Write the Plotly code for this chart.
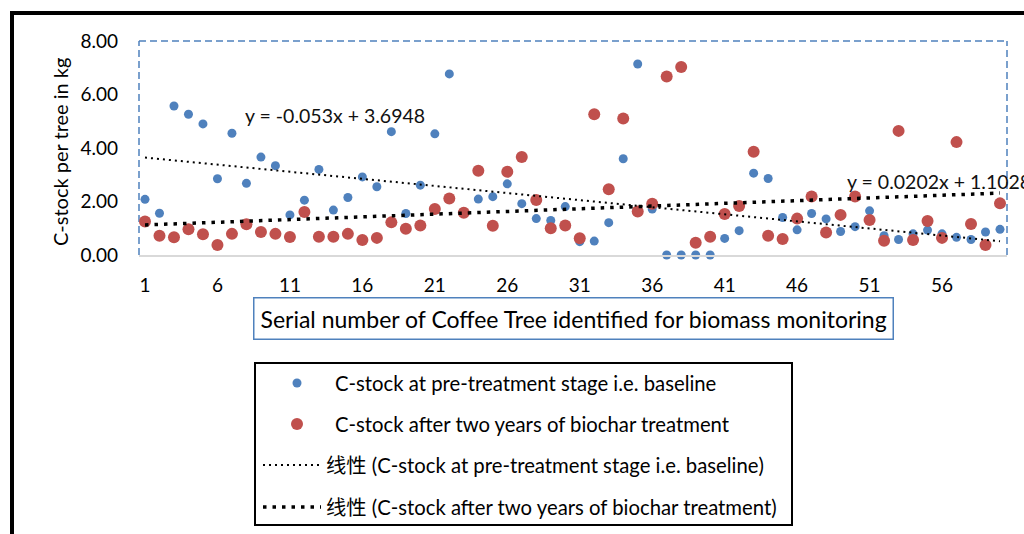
import plotly.graph_objects as go

# ---------------- data ----------------
tree_no = list(range(1, 61))
baseline = [2.08, 1.56, 5.57, 5.26, 4.90, 2.85, 4.55, 2.68, 3.66, 3.34,
            1.50, 2.05, 3.20, 1.68, 2.15, 2.92, 2.55, 4.61, 1.55, 2.61,
            4.53, 6.77, 1.61, 2.09, 2.18, 2.66, 1.92, 1.36, 1.29, 1.81,
            0.50, 0.52, 1.21, 3.60, 7.14, 1.72, 0.00, 0.00, 0.00, 0.00,
            0.62, 0.91, 3.06, 2.86, 1.40, 0.94, 1.55, 1.35, 0.88, 1.06,
            1.65, 0.72, 0.58, 0.79, 0.93, 0.79, 0.66, 0.58, 0.86, 0.96]
after = [1.25, 0.72, 0.66, 0.96, 0.78, 0.37, 0.79, 1.15, 0.86, 0.79,
         0.67, 1.61, 0.68, 0.68, 0.79, 0.56, 0.64, 1.22, 0.98, 1.10,
         1.72, 2.11, 1.58, 3.15, 1.09, 3.11, 3.66, 2.06, 1.00, 1.10,
         0.63, 5.26, 2.46, 5.10, 1.63, 1.92, 6.67, 7.03, 0.46, 0.68,
         1.53, 1.83, 3.86, 0.72, 0.60, 1.36, 2.19, 0.84, 1.50, 2.19,
         1.31, 0.53, 4.64, 0.56, 1.27, 0.64, 4.22, 1.16, 0.37, 1.93]

base_slope, base_intercept = -0.053, 3.6948
after_slope, after_intercept = 0.0202, 1.1028

name_base = "C-stock at pre-treatment stage i.e. baseline"
name_after = "C-stock after two years of biochar treatment"
name_base_tr = "线性 (C-stock at pre-treatment stage i.e. baseline)"
name_after_tr = "线性 (C-stock after two years of biochar treatment)"

y_ticks = [0, 2, 4, 6, 8]
y_tick_text = ["0.00", "2.00", "4.00", "6.00", "8.00"]
x_ticks = list(range(1, 61, 5))

x_title = "Serial number of Coffee Tree identified for biomass monitoring"
y_title = "C-stock per tree in kg"
eq_base = "y = -0.053x + 3.6948"
eq_after = "y = 0.0202x + 1.1028"

BLUE = "#4F81BD"
RED = "#C0504D"
FONT = "Lato, 'Noto Sans CJK SC', sans-serif"

BASE_MARK, AFTER_MARK = 9, 12
BASE_LINE = dict(color="black", width=2, dash="2px,4px")
AFTER_LINE = dict(color="black", width=3.5, dash="3.5px,6px")

# ---------------- figure ----------------
W, H = 1024, 534
L, R, T, B = 139, 17, 41, 279   # plot area 139..1007 x 41..255


def px_x(px):
    return (px - L) / (W - L - R)


def px_y(py):
    return (H - B - py) / (H - T - B)


trend_x = [tree_no[0], tree_no[-1]]

fig = go.Figure()
fig.add_trace(go.Scatter(
    x=tree_no, y=baseline, mode="markers", name=name_base,
    marker=dict(color=BLUE, size=BASE_MARK), cliponaxis=False))
fig.add_trace(go.Scatter(
    x=tree_no, y=after, mode="markers", name=name_after,
    marker=dict(color=RED, size=AFTER_MARK), cliponaxis=False))
fig.add_trace(go.Scatter(
    x=trend_x, y=[base_slope * v + base_intercept for v in trend_x],
    mode="lines", name=name_base_tr, line=BASE_LINE))
fig.add_trace(go.Scatter(
    x=trend_x, y=[after_slope * v + after_intercept for v in trend_x],
    mode="lines", name=name_after_tr, line=AFTER_LINE))

dash_frame = dict(color=BLUE, width=1.5, dash="7px,4px")
shapes = [
    dict(type="line", xref="paper", yref="paper", x0=0, x1=1, y0=1, y1=1,
         line=dash_frame, layer="below"),
    dict(type="line", xref="paper", yref="paper", x0=0, x1=0, y0=0, y1=1,
         line=dash_frame, layer="below"),
    dict(type="line", xref="paper", yref="paper", x0=1, x1=1, y0=0, y1=1,
         line=dash_frame, layer="below"),
    # outer black border (top, left)
    dict(type="line", xref="paper", yref="paper", x0=px_x(10), x1=px_x(1030),
         y0=px_y(13), y1=px_y(13), line=dict(color="black", width=4)),
    dict(type="line", xref="paper", yref="paper", x0=px_x(12), x1=px_x(12),
         y0=px_y(11), y1=px_y(700), line=dict(color="black", width=4)),
]

annotations = [
    dict(text=eq_base, xref="paper", yref="paper", x=px_x(243), y=px_y(115),
         xanchor="left", yanchor="middle", showarrow=False,
         font=dict(family=FONT, size=19.5, color="#111")),
    dict(text=eq_after, xref="paper", yref="paper", x=px_x(845), y=px_y(181),
         xanchor="left", yanchor="middle", showarrow=False,
         font=dict(family=FONT, size=19.5, color="#111")),
    dict(text=x_title, xref="paper", yref="paper", x=px_x(573.5), y=px_y(318),
         xanchor="center", yanchor="middle", showarrow=False,
         bordercolor=BLUE, borderwidth=1.5, borderpad=6, bgcolor="white",
         font=dict(family=FONT, size=23, color="black")),
    dict(text=y_title, xref="paper", yref="paper", x=px_x(60), y=px_y(152),
         xanchor="center", yanchor="middle", showarrow=False, textangle=-90,
         font=dict(family=FONT, size=20, color="black")),
]

# ---------------- hand-placed legend box (pixel layout) ----------------
leg_box = (255, 363, 792, 525)
leg_rows = [383, 424, 465, 507]
shapes.append(dict(type="rect", xref="paper", yref="paper",
                   x0=px_x(leg_box[0]), x1=px_x(leg_box[2]),
                   y0=px_y(leg_box[1]), y1=px_y(leg_box[3]),
                   line=dict(color="black", width=2), fillcolor="white"))
for cy, col, d in [(leg_rows[0], BLUE, BASE_MARK), (leg_rows[1], RED, AFTER_MARK)]:
    shapes.append(dict(type="circle", xref="paper", yref="paper",
                       x0=px_x(297 - d / 2), x1=px_x(297 + d / 2),
                       y0=px_y(cy - d / 2), y1=px_y(cy + d / 2),
                       line=dict(width=0), fillcolor=col))
for cy, ln in [(leg_rows[2], BASE_LINE), (leg_rows[3], AFTER_LINE)]:
    shapes.append(dict(type="line", xref="paper", yref="paper",
                       x0=px_x(263), x1=px_x(321), y0=px_y(cy), y1=px_y(cy),
                       line=ln))
for cy, txt, x0 in [(leg_rows[0], name_base, 333), (leg_rows[1], name_after, 333),
                    (leg_rows[2], name_base_tr, 324), (leg_rows[3], name_after_tr, 324)]:
    annotations.append(dict(text=txt, xref="paper", yref="paper",
                            x=px_x(x0), y=px_y(cy), xanchor="left",
                            yanchor="middle", showarrow=False,
                            font=dict(family=FONT, size=20.3, color="black")))

fig.update_layout(
    width=W, height=H,
    margin=dict(l=L, r=R, t=T, b=B, pad=0),
    paper_bgcolor="white", plot_bgcolor="white",
    font=dict(family=FONT, size=18, color="black"),
    shapes=shapes, annotations=annotations,
    showlegend=False,
    xaxis=dict(
        range=[1 - 6 / 14.49, 60 + 7 / 14.49],
        tickmode="array", tickvals=x_ticks, ticktext=[str(v) for v in x_ticks],
        showgrid=False, zeroline=False, showline=True, linecolor="#D9D9D9",
        linewidth=2, ticks="", ticklabelstandoff=12,
        tickfont=dict(family=FONT, size=19, color="black"),
    ),
    yaxis=dict(
        range=[0, 8], tickmode="array", tickvals=y_ticks, ticktext=y_tick_text,
        showgrid=False, zeroline=False, showline=False, ticks="",
        ticklabelstandoff=20,
        tickfont=dict(family=FONT, size=19, color="black"),
    ),
)

fig.write_html(
    "out.html",
    config={"displayModeBar": False},
    post_script="document.body.style.margin='0';document.body.style.overflow='hidden';",
)
